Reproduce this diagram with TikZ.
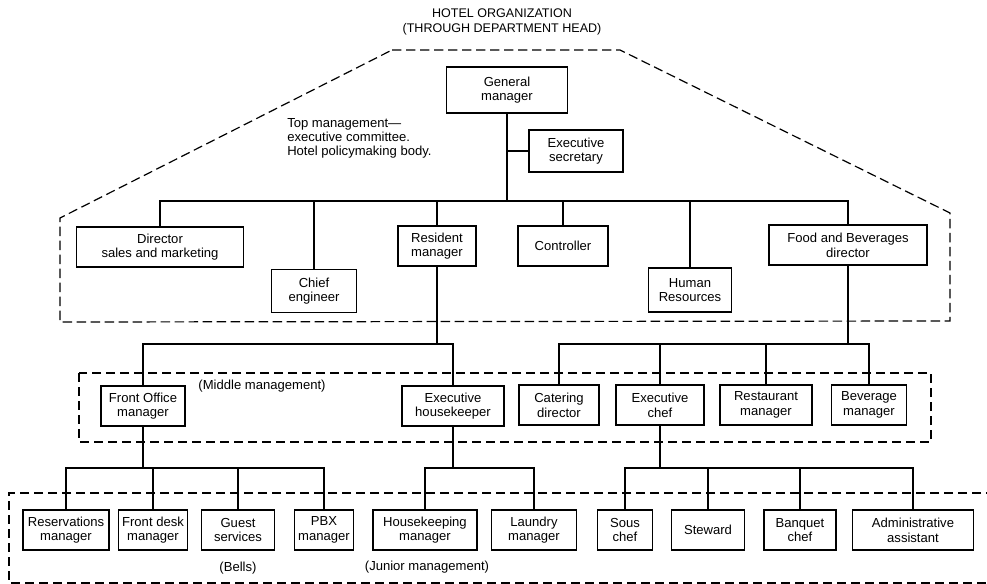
\documentclass[tikz,border=0pt]{standalone}
\usepackage{fontspec}
\setmainfont{Liberation Sans}
\usepackage{xcolor}
\usepackage{tikz}
\tikzstyle{unit} = [draw=black, line width=1.1pt, rectangle, align=center,
inner sep=1pt, minimum height=30pt, font=\fontsize{9.8}{11}\selectfont]
\tikzstyle{link} = [draw=black, line width=1.5pt]
\tikzstyle{zone} = [draw=black, line width=0.9pt, dash pattern=on 7pt off 3.5pt]
\tikzstyle{remark} = [align=left, inner sep=0pt, font=\fontsize{9.8}{10.5}\selectfont]
\tikzstyle{heading} = [align=center, inner sep=0pt, font=\fontsize{9.4}{11}\selectfont]

\begin{document}
\begin{tikzpicture}[x=0.75pt, y=-0.75pt]
        \useasboundingbox (0,0) rectangle (987,584);
        % management zones
        \draw[zone] (392,50) -- (620,50) -- (950,213) -- (950,321) -- (60,322) -- (60,218) -- cycle;
        \draw[zone] (79,373) rectangle (931,442);
        \draw[zone] (995,493) -- (9,493) -- (9,583) -- (995,583);
        \node[heading] (title) at (502,22) {HOTEL ORGANIZATION\\(THROUGH DEPARTMENT HEAD)};
        \node[remark, anchor=north west] (topnote) at (287,118) {Top management---\\executive committee.\\Hotel policymaking body.};
        \node[remark] (midnote) at (262,386) {(Middle management)};
        \node[remark] (bells) at (238,568) {(Bells)};
        \node[remark] (junnote) at (427,567) {(Junior management)};
        % top management
        \node[unit, minimum width=90.75pt, minimum height=34.5pt] (gm) at (507,90) {General\\manager};
        \node[unit, minimum width=70.5pt, minimum height=31.5pt] (sec) at (576,151) {Executive\\secretary};
        \node[unit, minimum width=125.25pt] (dsm) at (160,247) {Director\\sales and marketing};
        \node[unit, minimum width=63.75pt, minimum height=32.25pt] (ce) at (314,291) {Chief\\engineer};
        \node[unit, minimum width=58.5pt] (rm) at (437,246) {Resident\\manager};
        \node[unit, minimum width=67.5pt] (ctl) at (563,246) {Controller};
        \node[unit, minimum width=62.25pt, minimum height=33pt] (hr) at (690,290) {Human\\Resources};
        \node[unit, minimum width=118.5pt] (fb) at (848,245) {Food and Beverages\\director};
        % middle management
        \node[unit, minimum width=63pt] (fo) at (143,406) {Front Office\\manager};
        \node[unit, minimum width=76.5pt] (eh) at (453,406) {Executive\\housekeeper};
        \node[unit, minimum width=60pt] (cd) at (559,405) {Catering\\director};
        \node[unit, minimum width=66pt] (ec) at (660,405) {Executive\\chef};
        \node[unit, minimum width=69pt] (rsm) at (766,405) {Restaurant\\manager};
        \node[unit, minimum width=56.25pt] (bm) at (869,405) {Beverage\\manager};
        % junior management
        \node[unit, minimum width=64.5pt] (res) at (66,530) {Reservations\\manager};
        \node[unit, minimum width=51.75pt] (fd) at (153,530) {Front desk\\manager};
        \node[unit, minimum width=54.75pt] (gs) at (238,530) {Guest\\services};
        \node[unit, minimum width=44.25pt] (pbx) at (324,530) {PBX\\manager};
        \node[unit, minimum width=78pt] (hk) at (425,530) {Housekeeping\\manager};
        \node[unit, minimum width=63.75pt] (lm) at (534,530) {Laundry\\manager};
        \node[unit, minimum width=41.25pt] (sc) at (625,530) {Sous\\chef};
        \node[unit, minimum width=54.75pt] (st) at (708,530) {Steward};
        \node[unit, minimum width=54pt] (bc) at (800,530) {Banquet\\chef};
        \node[unit, minimum width=90.75pt] (aa) at (913,530) {Administrative\\assistant};
        % bus levels
        \coordinate (b1) at (0,201);
        \coordinate (b2) at (0,344);
        \coordinate (b3) at (0,468);
        % connectors
        \draw[link] (gm.south |- sec.west) -- (sec.west);
        \draw[link] (gm.south) -- (gm.south |- b1) -| (dsm.north);
        \draw[link] (gm.south |- b1) -| (ce.north);
        \draw[link] (gm.south |- b1) -| (rm.north);
        \draw[link] (gm.south |- b1) -| (ctl.north);
        \draw[link] (gm.south |- b1) -| (hr.north);
        \draw[link] (gm.south |- b1) -| (fb.north);
        \draw[link] (rm.south) -- (rm.south |- b2) -| (fo.north);
        \draw[link] (rm.south |- b2) -| (eh.north);
        \draw[link] (fb.south) -- (fb.south |- b2) -| (cd.north);
        \draw[link] (fb.south |- b2) -| (ec.north);
        \draw[link] (fb.south |- b2) -| (rsm.north);
        \draw[link] (fb.south |- b2) -| (bm.north);
        \draw[link] (fo.south) -- (fo.south |- b3) -| (res.north);
        \draw[link] (fo.south |- b3) -| (fd.north);
        \draw[link] (fo.south |- b3) -| (gs.north);
        \draw[link] (fo.south |- b3) -| (pbx.north);
        \draw[link] (eh.south) -- (eh.south |- b3) -| (hk.north);
        \draw[link] (eh.south |- b3) -| (lm.north);
        \draw[link] (ec.south) -- (ec.south |- b3) -| (sc.north);
        \draw[link] (ec.south |- b3) -| (st.north);
        \draw[link] (ec.south |- b3) -| (bc.north);
        \draw[link] (ec.south |- b3) -| (aa.north);
    \end{tikzpicture}
\end{document}
